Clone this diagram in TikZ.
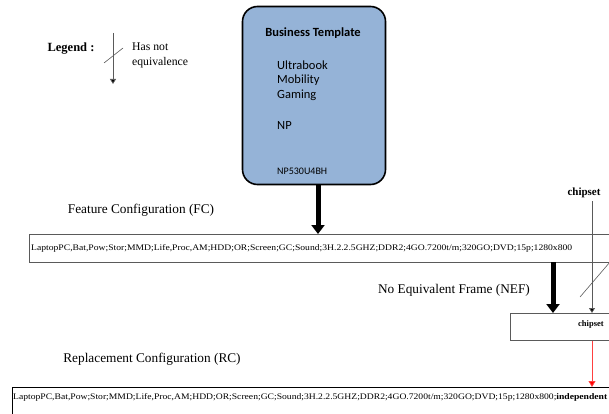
\documentclass[tikz,border=0pt]{standalone}
\usepackage{fontspec}
\setmainfont{Liberation Serif}
\newfontfamily\calib{Carlito}
\usetikzlibrary{arrows.meta}
\definecolor{tplblue}{RGB}{149,179,215}
\definecolor{linegray}{RGB}{90,90,90}
\tikzset{
  frame/.style={draw=linegray, line width=0.9pt, anchor=north west, inner sep=0pt},
  thickarrow/.style={line width=5pt, -{Triangle[length=9pt, width=13pt]}},
  thinarrow/.style={draw=linegray, line width=0.8pt, -{Triangle[length=5pt, width=6pt, fill=black]}},
  slash/.style={draw=linegray, line width=0.6pt},
  caption/.style={font=\fontsize{13.3}{15}\selectfont},
  tpltext/.style={anchor=west, inner sep=0pt, font=\calib\fontsize{12.5}{14}\selectfont}
}
\begin{document}
\begin{tikzpicture}[x=1pt, y=-1pt]
\useasboundingbox (0,0) rectangle (609,414);
\clip (0,0) rectangle (609,414);

% legend
\node[font=\bfseries\fontsize{12.5}{14}\selectfont] (leg) at (71,49) {Legend :};
\coordinate (legtop) at (113,33);
\coordinate (legbot) at (113,84);
\draw[thinarrow] (legtop) -- (legbot);
\draw[slash] (104,63) -- (123,48);
\node[anchor=west, inner sep=0pt, font=\fontsize{11.7}{13}\selectfont] (hn1) at (132,47) {Has not};
\node[anchor=west, inner sep=0pt, font=\fontsize{11.7}{13}\selectfont] (hn2) at (132,63) {equivalence};

% business template
\node[draw=black, line width=1.6pt, fill=tplblue, rounded corners=15pt,
      minimum width=143pt, minimum height=178pt] (bt) at (314,95.5) {};
\node[font=\calib\bfseries\fontsize{12.5}{14}\selectfont, inner sep=0pt] (bttitle) at (313,33) {Business Template};
\node[tpltext] (u1) at (277,65) {Ultrabook};
\node[tpltext] (u2) at (277,80) {Mobility};
\node[tpltext] (u3) at (277,95) {Gaming};
\node[tpltext] (u4) at (277,125) {NP};
\node[tpltext, font=\calib\fontsize{10}{11}\selectfont] (u5) at (277,171) {NP530U4BH};

% feature configuration
\node[caption] (fclab) at (141,210) {Feature Configuration (FC)};
\node[frame, minimum width=590pt, minimum height=28pt] (fc) at (29,234) {};
\node[anchor=west, inner sep=0pt] (fctext) at (31,248)
  {\resizebox{541pt}{6pt}{LaptopPC,Bat,Pow;Stor;MMD;Life,Proc,AM;HDD;OR;Screen;GC;Sound;3H.2.2.5GHZ;DDR2;4GO.7200t/m;320GO;DVD;15p;1280x800}};
\draw[thickarrow] ([xshift=4pt]bt.south) -- ([xshift=4pt]bt.south |- fc.north);

% chipset without equivalence
\node[font=\bfseries\fontsize{11}{13}\selectfont] (chip) at (584,193) {chipset};
\coordinate (ctop) at (592,201);

% no equivalent frame
\node[caption] (neflab) at (454,290) {No Equivalent Frame (NEF)};
\node[frame, minimum width=110pt, minimum height=27pt] (nef) at (510,313) {};
\node[anchor=west, inner sep=0pt, font=\bfseries\fontsize{8.5}{10}\selectfont] (neftext) at (578,324) {chipset};
\coordinate (fcout) at (553,262);
\draw[thickarrow] (fcout) -- (fcout |- nef.north);
\draw[thinarrow] (ctop) -- (ctop |- nef.north);
\draw[slash] (580,297) -- (610,262);

% replacement configuration
\node[caption] (rclab) at (152,359) {Replacement Configuration (RC)};
\node[frame, draw=black, minimum width=610pt, minimum height=40pt] (rc) at (12,387) {};
\node[anchor=west, inner sep=0pt] (rctext) at (13,397)
  {\resizebox{594pt}{6pt}{LaptopPC,Bat,Pow;Stor;MMD;Life,Proc,AM;HDD;OR;Screen;GC;Sound;3H.2.2.5GHZ;DDR2;4GO.7200t/m;320GO;DVD;15p;1280x800;\textbf{independent}}};
\draw[draw=red!75, line width=0.8pt, -{Triangle[length=6pt, width=7pt, fill=red]}] (ctop |- nef.south) -- (ctop |- rc.north);
\end{tikzpicture}
\end{document}
